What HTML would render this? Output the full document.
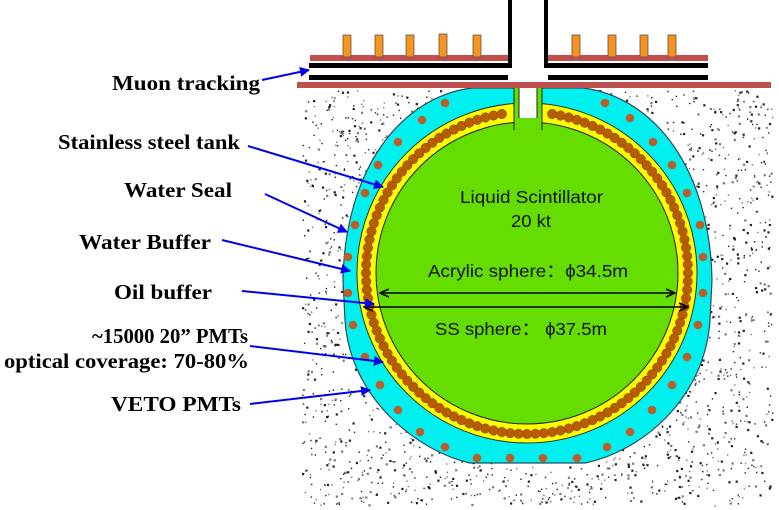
<!DOCTYPE html>
<html><head><meta charset="utf-8"><style>
html,body{margin:0;padding:0;background:#fff;width:779px;height:510px;overflow:hidden}
svg{display:block}
.lb{font-family:"Liberation Serif",serif;font-weight:bold;font-size:21px;fill:#000}
.in{font-family:"Liberation Sans",sans-serif;font-size:17.5px;fill:#111}
</style></head><body>
<svg id="s" width="779" height="510" viewBox="0 0 779 510" xmlns="http://www.w3.org/2000/svg">
<defs>
<marker id="bh" markerWidth="10" markerHeight="10" refX="9" refY="5" orient="auto" markerUnits="userSpaceOnUse"><path d="M0,0 L10,5 L0,10 Z" fill="#0000ee"/></marker>
<marker id="kh" markerWidth="10" markerHeight="10" refX="9" refY="5" orient="auto-start-reverse" markerUnits="userSpaceOnUse"><path d="M0,1 L9,5 L0,9" fill="none" stroke="#000" stroke-width="1.6"/></marker>
</defs>
<rect x="300" y="88" width="475" height="420" fill="#fff"/>
<g id="spk"></g>
<path d="M472,88 C400,97 345,170 343,280 L345,320 C350,400 420,452 470,463 L585,463 C640,452 705,400 710,320 L712,280 C710,170 655,97 583,88 Z" fill="#00f0f0" stroke="#2a4a5a" stroke-width="1.2"/>
<g id="veto"></g>
<circle cx="527" cy="273" r="170" fill="#ffff00" stroke="#333" stroke-width="1"/>
<g id="pmt"></g>
<circle cx="527" cy="273" r="151" fill="#66dd00" stroke="#222" stroke-width="1"/>
<rect x="514" y="88" width="28" height="42" fill="#66dd00"/>
<rect x="519" y="88" width="18" height="30" fill="#fff"/>
<line x1="514" y1="88" x2="514" y2="130" stroke="#222" stroke-width="1"/>
<line x1="542" y1="88" x2="542" y2="130" stroke="#222" stroke-width="1"/>
<line x1="519" y1="88" x2="519" y2="118" stroke="#222" stroke-width="1"/>
<line x1="537" y1="88" x2="537" y2="118" stroke="#222" stroke-width="1"/>
<rect x="297" y="82" width="474" height="6" fill="#c0504d"/>
<rect x="309" y="63" width="399" height="5" fill="#000"/>
<rect x="309" y="75" width="399" height="5" fill="#000"/>
<rect x="310" y="55" width="398" height="6" fill="#c0504d"/>
<rect x="508" y="0" width="40" height="80" fill="#fff"/>
<rect x="508" y="0" width="4" height="68" fill="#000"/>
<rect x="544" y="0" width="4" height="68" fill="#000"/>
<g fill="#f7941d" stroke="#555" stroke-width="0.8">
<rect x="343" y="35" width="8" height="22"/><rect x="375" y="35" width="8" height="22"/><rect x="406" y="35" width="8" height="22"/><rect x="439" y="34" width="8" height="23"/><rect x="473" y="35" width="8" height="22"/>
<rect x="572" y="35" width="8" height="22"/><rect x="608" y="35" width="8" height="22"/><rect x="640" y="35" width="8" height="22"/><rect x="668" y="35" width="8" height="22"/>
</g>
<text class="in" x="460" y="203" textLength="143" lengthAdjust="spacingAndGlyphs">Liquid Scintillator</text>
<text class="in" x="511" y="227" textLength="40" lengthAdjust="spacingAndGlyphs">20 kt</text>
<text class="in" x="428" y="277" textLength="200" lengthAdjust="spacingAndGlyphs">Acrylic sphere：ϕ34.5m</text>
<line x1="380" y1="293" x2="675" y2="293" stroke="#000" stroke-width="1.6" marker-start="url(#kh)" marker-end="url(#kh)"/>
<line x1="364" y1="307" x2="688" y2="307" stroke="#000" stroke-width="1.6" marker-start="url(#kh)" marker-end="url(#kh)"/>
<text class="in" x="435" y="335" textLength="172" lengthAdjust="spacingAndGlyphs">SS sphere：  ϕ37.5m</text>
<g class="lb">
<text x="112" y="90" textLength="148" lengthAdjust="spacingAndGlyphs">Muon tracking</text>
<text x="58" y="149" textLength="182" lengthAdjust="spacingAndGlyphs">Stainless steel tank</text>
<text x="124" y="197" textLength="108" lengthAdjust="spacingAndGlyphs">Water Seal</text>
<text x="79" y="249" textLength="132" lengthAdjust="spacingAndGlyphs">Water Buffer</text>
<text x="114" y="299" textLength="98" lengthAdjust="spacingAndGlyphs">Oil buffer</text>
<text x="92" y="343" textLength="156" lengthAdjust="spacingAndGlyphs">~15000 20” PMTs</text>
<text x="4" y="368" textLength="245" lengthAdjust="spacingAndGlyphs">optical coverage: 70-80%</text>
<text x="111" y="411" textLength="130" lengthAdjust="spacingAndGlyphs">VETO PMTs</text>
</g>
<g stroke="#0000ee" stroke-width="2" fill="none" marker-end="url(#bh)">
<line x1="262" y1="80" x2="309" y2="70"/>
<line x1="248" y1="146" x2="383" y2="187"/>
<line x1="265" y1="194" x2="347" y2="232"/>
<line x1="222" y1="240" x2="350" y2="271"/>
<line x1="242" y1="291" x2="374" y2="304"/>
<line x1="250" y1="346" x2="383" y2="362"/>
<line x1="250" y1="404" x2="370" y2="390"/>
</g>
</svg>
<script>
var NS="http://www.w3.org/2000/svg";
function el(p,t,a){var e=document.createElementNS(NS,t);for(var k in a)e.setAttribute(k,a[k]);p.appendChild(e);return e;}
var seed=7;function rnd(){seed=(seed*16807)%2147483647;return seed/2147483647;}
var g=document.getElementById('spk');
for(var i=0;i<3000;i++){var x=302+rnd()*470,y=90+rnd()*416;var s=rnd()<0.35?2.2:1.4;el(g,'rect',{x:x,y:y,width:s,height:s,fill:rnd()<0.6?'#222':'#777'});}
var p=document.getElementById('pmt');
for(var a=0;a<360;a+=3.0){var r=a*Math.PI/180;var x=527+161*Math.sin(r),y=273-161*Math.cos(r);if(Math.abs(x-527)<18&&y<150)continue;el(p,'circle',{cx:x,cy:y,r:4.8,fill:'#b85c00',stroke:'#8a4a10','stroke-width':0.5});}
var v=[[445,103],[422,120],[398,142],[378,165],[365,193],[355,225],[348,257],[348,293],[353,325],[365,357],[380,385],[398,410],[420,432],[445,447],[477,458],[510,458],[543,458],[577,458],[607,447],[630,432],[652,410],[672,385],[687,357],[698,325],[703,293],[703,257],[700,225],[687,193],[672,165],[653,142],[630,118],[605,103]];
var vg=document.getElementById('veto');
v.forEach(function(q){el(vg,'circle',{cx:q[0],cy:q[1],r:4.3,fill:'#b8602a'});});
</script>
</body></html>
